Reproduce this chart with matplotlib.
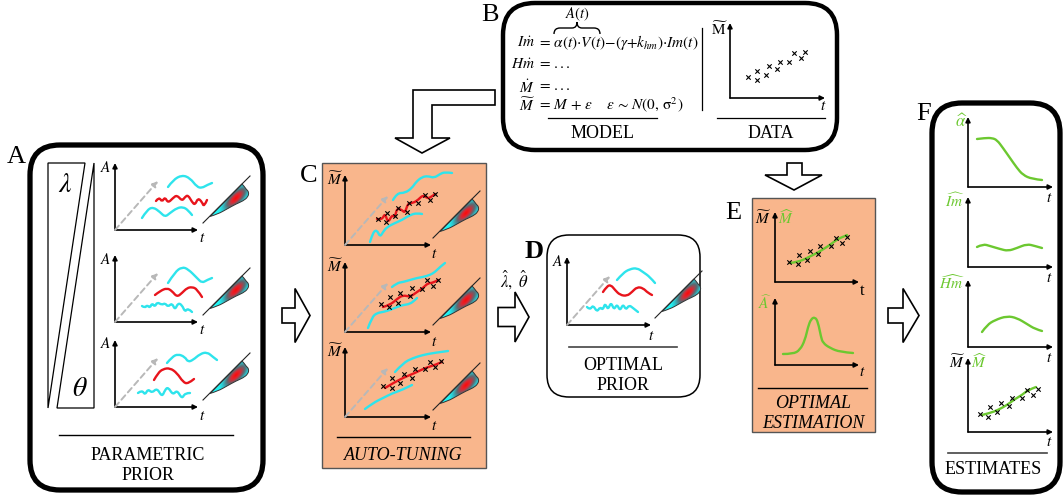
import numpy as np
import matplotlib.pyplot as plt
from matplotlib.patches import FancyBboxPatch, Rectangle, Polygon, PathPatch
from matplotlib.path import Path
from matplotlib.colors import LinearSegmentedColormap

plt.rcParams['font.family'] = ['Liberation Serif', 'DejaVu Serif']
plt.rcParams['mathtext.fontset'] = 'stix'

CYAN = '#2ee4ec'
RED = '#e8141c'
GREEN = '#6cc830'
ORANGE = '#f9b68c'
GRAY = '#b8b8b8'

# curve values, in pixels measured from each small plot's origin (dx right, dy up)
A1_CYAN_TOP = [(53, 43), (58, 50), (67, 55), (75, 52), (82, 43), (87, 42), (92, 45), (97, 47)]
A1_RED = [(41, 29), (44, 33), (47, 28), (50, 33), (53, 27), (58, 32), (62, 35), (67, 29),
          (70, 33), (73, 35), (77, 28), (80, 25), (83, 32), (87, 28), (89, 23), (92, 30)]
A1_CYAN_BOT = [(27, 12), (32, 20), (38, 23), (45, 18), (50, 13), (55, 17), (62, 22), (68, 23),
               (73, 20), (77, 15)]

A2_CYAN_TOP = [(53, 39), (60, 50), (67, 55), (73, 53), (82, 44), (87, 39), (92, 42), (97, 44)]
A2_RED = [(40, 27), (45, 31), (52, 34), (57, 31), (62, 25), (67, 29), (72, 34), (77, 35),
          (82, 33), (87, 25)]
A2_CYAN_BOT = [(27, 16), (30, 14), (32, 17), (35, 14), (37, 19), (40, 15), (42, 20), (47, 17),
               (50, 19), (53, 15), (57, 19), (60, 12), (63, 19), (67, 17), (70, 10), (73, 14),
               (77, 10)]

A3_CYAN_TOP = [(52, 44), (57, 50), (63, 53), (70, 50), (73, 45), (78, 47), (85, 53), (92, 55),
               (98, 50), (102, 47)]
A3_RED = [(39, 27), (43, 34), (48, 38), (55, 39), (62, 34), (68, 25), (73, 23), (79, 28)]
A3_CYAN_BOT = [(23, 14), (27, 17), (30, 12), (33, 18), (37, 14), (42, 19), (47, 10), (50, 17),
               (53, 20), (58, 12), (62, 17), (67, 8), (70, 14), (75, 14)]

C1_CYAN_TOP = [(48, 45), (52, 52), (60, 52), (67, 57), (71, 63), (77, 68), (83, 69), (89, 67),
               (95, 71), (100, 73), (107, 72)]
C1_CYAN_BOT = [(25, 3), (28, 13), (32, 15), (35, 8), (38, 13), (42, 18), (50, 22), (57, 25),
               (65, 30), (72, 32), (77, 31)]
C1_RED = [(32, 26), (37, 25), (40, 32), (43, 22), (47, 30), (50, 28), (52, 37), (57, 35),
          (60, 32), (63, 42), (68, 42), (73, 45), (78, 50), (82, 47), (85, 47), (90, 51)]
C1_OBS_X = [33, 41, 42, 50, 53, 62, 64, 73, 80, 85, 90]
C1_OBS_Y = [26, 23, 32, 29, 37, 33, 42, 42, 50, 45, 51]

C2_CYAN_TOP = [(47, 45), (52, 49), (58, 50), (65, 52), (72, 54), (78, 55), (85, 57), (90, 60),
               (95, 65), (100, 69)]
C2_CYAN_BOT = [(23, 4), (27, 15), (32, 19), (38, 20), (45, 22), (52, 25), (58, 27), (65, 28),
               (70, 32), (72, 34)]
C2_RED = [(38, 25), (45, 27), (52, 33), (58, 37), (65, 35), (72, 40), (78, 44), (83, 49),
          (88, 49), (93, 52)]
C2_OBS_X = [36, 44, 45, 53, 55, 65, 67, 77, 82, 88, 93]
C2_OBS_Y = [28, 25, 35, 29, 39, 36, 44, 43, 52, 46, 52]

C3_CYAN_TOP = [(50, 45), (58, 54), (68, 59), (78, 62), (88, 64), (103, 66)]
C3_CYAN_BOT = [(20, 8), (28, 14), (38, 19), (48, 24), (57, 27), (67, 32)]
C3_RED = [(40, 29), (50, 35), (60, 40), (70, 44), (80, 49), (90, 52), (97, 55)]
C3_OBS_X = [38, 47, 47, 55, 59, 67, 70, 80, 85, 90, 96]
C3_OBS_Y = [31, 39, 29, 34, 43, 39, 48, 48, 55, 50, 56]

D_CYAN_TOP = [(50, 45), (56, 52), (63, 56), (70, 57), (76, 53), (83, 48), (88, 42)]
D_RED = [(36, 33), (40, 39), (44, 40), (48, 35), (53, 30), (60, 29), (65, 33), (70, 38),
         (76, 37), (81, 32), (85, 30)]
D_CYAN_BOT = [(20, 18), (23, 15), (26, 20), (30, 13), (33, 18), (36, 15), (38, 22), (41, 15),
              (44, 23), (47, 15), (50, 21), (53, 14), (56, 21), (59, 15), (62, 20), (66, 17),
              (71, 13)]

DATA_X = [18, 27, 27, 36, 39, 47, 50, 59, 64, 71, 75]
DATA_Y = [21, 18, 27, 23, 32, 29, 36, 36, 45, 40, 46]

E1_FIT = [(15, 19), (23, 20), (32, 24), (42, 29), (52, 35), (60, 41), (65, 44), (70, 46), (72, 47)]
E1_OBS_X = [14, 23, 24, 32, 35, 43, 45, 56, 61, 67, 72]
E1_OBS_Y = [20, 18, 27, 22, 31, 28, 36, 36, 44, 39, 45]
E2_A_HAT = [(8, 11), (18, 11), (25, 15), (30, 25), (33, 38), (36, 46), (40, 48), (43, 43),
            (46, 28), (48, 22), (55, 17), (65, 13), (78, 12)]

F1_ALPHA = [(9, 48), (17, 49), (24, 49), (29, 47), (35, 39), (42, 29), (49, 19), (55, 12),
            (64, 8), (74, 7)]
F2_IM = [(9, 20), (15, 23), (22, 21), (32, 18), (40, 16), (49, 19), (59, 23), (67, 21), (74, 19)]
F3_HM = [(14, 15), (19, 22), (27, 27), (39, 31), (49, 29), (59, 23), (67, 18), (74, 16)]
F4_FIT = [(14, 17), (22, 19), (30, 22), (39, 27), (47, 33), (54, 37), (60, 42), (68, 45)]
F4_OBS_X = [12, 20, 22, 29, 33, 41, 44, 54, 59, 65, 70]
F4_OBS_Y = [18, 15, 25, 20, 29, 26, 34, 34, 42, 37, 43]

# outline of the prior density drawn beside each prior plot (starts and ends on its base line)
BLOB_EDGE = [(95, 13.5), (103, 16), (112, 21), (121, 26), (128, 29), (133, 33), (134, 38),
             (131, 41), (129, 44), (127, 46)]

fig = plt.figure(figsize=(10.63, 4.95), dpi=100)
ax = fig.add_axes([0, 0, 1, 1])
ax.axis('off')


def smooth_path(pts):
    pts = np.asarray(pts, float)
    verts = [pts[0]]
    codes = [Path.MOVETO]
    for i in range(1, len(pts) - 1):
        end = (pts[i] + pts[i + 1]) / 2 if i < len(pts) - 2 else pts[i + 1]
        verts += [pts[i], end]
        codes += [Path.CURVE3, Path.CURVE3]
    if len(pts) == 2:
        verts.append(pts[1])
        codes.append(Path.LINETO)
    return Path(verts, codes)


def place(ox, oy, pts):
    return [(ox + dx, oy - dy) for dx, dy in pts]


def curve(ox, oy, pts, color, lw=1.7):
    ax.add_patch(PathPatch(smooth_path(place(ox, oy, pts)), fill=False, ec=color, lw=lw,
                           capstyle='round', joinstyle='round', zorder=3))


def crosses(ox, oy, xs, ys):
    ax.scatter([ox + x for x in xs], [oy - y for y in ys], marker='x', s=10, c='k',
               linewidths=0.8, zorder=5)


def arrow(x0, y0, x1, y1, color='k', lw=1.2, ls='-', ms=7):
    ax.annotate('', xy=(x1, y1), xytext=(x0, y0),
                arrowprops=dict(arrowstyle='-|>', color=color, lw=lw, ls=ls,
                                mutation_scale=ms, shrinkA=0, shrinkB=0))


def mini_axes(ox, oy, w, h):
    arrow(ox, oy, ox, oy - h)
    arrow(ox, oy, ox + w, oy)


def depth_arrow(ox, oy):
    arrow(ox, oy, ox + 43, oy - 49, color=GRAY, lw=1.4, ls=(0, (3, 2)), ms=8)


cmap = LinearSegmentedColormap.from_list(
    'prior', [(0, '#ff0808'), (0.25, '#e02630'), (0.52, '#5a6a72'), (0.78, '#2ec2ca'),
              (1, '#22f4f4')])


def blob(ox, oy):
    ax.plot([ox + 88, ox + 135], [oy - 7, oy - 54], color='#222', lw=0.8, zorder=3)
    edge = np.array(place(ox, oy, BLOB_EDGE), float)
    p = smooth_path(edge)
    verts = list(p.vertices) + [edge[0], edge[0]]
    codes = list(p.codes) + [Path.LINETO, Path.CLOSEPOLY]
    path = Path(verts, codes)
    ax.add_patch(PathPatch(path, fc='none', ec='#333', lw=0.7, zorder=4))
    x0, x1 = ox + 93, ox + 136
    y0, y1 = oy - 48, oy - 11
    gx, gy = np.meshgrid(np.linspace(x0, x1, 90), np.linspace(y0, y1, 90))
    cx, cy = ox + 121, oy - 32
    dx, dyu = gx - cx, cy - gy
    u = (dx + dyu) / np.sqrt(2)
    v = (dx - dyu) / np.sqrt(2)
    d = np.sqrt((u / 16) ** 2 + (v / 6.5) ** 2)
    img = cmap(np.clip(d / 1.4, 0, 1))
    im = ax.imshow(img, extent=(x0, x1, y1, y0), origin='upper', aspect='auto',
                   interpolation='bilinear', zorder=2)
    im.set_clip_path(PathPatch(path, transform=ax.transData))


def right_arrow(x0, xb, xt, yc, hs, hh):
    pts = [(x0, yc - hs), (xb, yc - hs), (xb, yc - hh), (xt, yc), (xb, yc + hh),
           (xb, yc + hs), (x0, yc + hs)]
    ax.add_patch(Polygon(pts, closed=True, fc='white', ec='k', lw=1.2, zorder=3))


def label(x, y, s, size=11, color='k', **kw):
    ax.text(x, y, s, fontsize=size, color=color, ha='center', va='center', **kw)


# ---- frames ----
ax.add_patch(FancyBboxPatch((30, 145), 233, 345, boxstyle='round,pad=0,rounding_size=30',
                            fc='white', ec='k', lw=3.8))
ax.add_patch(FancyBboxPatch((503, 3), 334, 147, boxstyle='round,pad=0,rounding_size=32',
                            fc='white', ec='k', lw=3.2))
ax.add_patch(FancyBboxPatch((547, 235), 153, 162, boxstyle='round,pad=0,rounding_size=22',
                            fc='white', ec='k', lw=1.1))
ax.add_patch(FancyBboxPatch((932, 103), 128, 389, boxstyle='round,pad=0,rounding_size=30',
                            fc='white', ec='k', lw=3.8))
ax.add_patch(Rectangle((322, 163), 164, 305, fc=ORANGE, ec='#555', lw=1.0))
ax.add_patch(Rectangle((752, 198), 123, 234, fc=ORANGE, ec='#555', lw=1.0))

# panel letters
for s, x, y, w in [('A', 16, 157, 'normal'), ('B', 490, 15, 'normal'), ('C', 309, 176, 'normal'),
                   ('D', 534, 252, 'bold'), ('E', 733, 213, 'normal'), ('F', 924, 114, 'normal')]:
    label(x, y, s, size=19, weight=w)

# ---- A: parametric prior ----
ax.add_patch(Polygon([(48, 163), (85, 163), (48, 408)], closed=True, fc='none', ec='k', lw=0.9))
ax.add_patch(Polygon([(94, 163), (94, 408), (57, 408)], closed=True, fc='none', ec='k', lw=0.9))
label(65, 186, r'$\lambda$', size=20)
label(80, 390, r'$\theta$', size=20)

for oy, top, red, bot in [(230, A1_CYAN_TOP, A1_RED, A1_CYAN_BOT),
                          (322, A2_CYAN_TOP, A2_RED, A2_CYAN_BOT),
                          (407, A3_CYAN_TOP, A3_RED, A3_CYAN_BOT)]:
    ox = 115
    mini_axes(ox, oy, 83, 67)
    depth_arrow(ox, oy)
    curve(ox, oy, top, CYAN)
    curve(ox, oy, red, RED)
    curve(ox, oy, bot, CYAN)
    blob(ox, oy)
    label(ox - 9, oy - 63, r'$A$', size=11)
    label(ox + 87, oy + 9, r'$t$', size=11)

ax.plot([59, 233], [435, 435], color='k', lw=1.0)
label(148, 456, 'PARAMETRIC', size=13)
label(148, 476, 'PRIOR', size=13)

# ---- B: model and data ----
EQ = 11
for y, lhs, rhs in [(43, r'$I\dot{m}$', r'$=\,\alpha(t){\cdot}V(t){-}(\gamma{+}k_{hm}){\cdot}Im(t)$'),
                    (65, r'$H\dot{m}$', r'$=\,...$'),
                    (87, r'$\dot{M}$', r'$=\,...$'),
                    (105, r'$\widetilde{M}$',
                     r'$=\,M\,+\,\varepsilon\quad\ \varepsilon\,\sim\,N(0,\,\mathrm{\sigma}^2)$')]:
    ax.text(535, y, lhs, fontsize=EQ, ha='right', va='center')
    ax.text(537, y, rhs, fontsize=EQ, ha='left', va='center')
# brace over alpha(t)·V(t)
brace = Path([(554, 34), (554, 28), (560, 28), (572, 28), (577, 28), (577, 22),
              (577, 28), (582, 28), (594, 28), (600, 28), (600, 34)],
             [Path.MOVETO, Path.CURVE3, Path.CURVE3, Path.LINETO, Path.CURVE3, Path.CURVE3,
              Path.CURVE3, Path.CURVE3, Path.LINETO, Path.CURVE3, Path.CURVE3])
ax.add_patch(PathPatch(brace, fill=False, ec='k', lw=1.0))
label(577, 14, r'$A(t)$', size=10.5)

ax.plot([702, 702], [28, 110], color='k', lw=0.9)
ax.plot([548, 657], [118, 118], color='k', lw=0.9)
label(603, 134, 'MODEL', size=13)

mini_axes(730, 98, 95, 75)
crosses(730, 98, DATA_X, DATA_Y)
label(719, 29, r'$\widetilde{\mathrm{M}}$', size=11)
label(823, 106, r'$t$', size=11)
ax.plot([717, 825], [118, 118], color='k', lw=0.9)
label(771, 134, 'DATA', size=13)

# ---- block arrows ----
right_arrow(282, 295, 310, 315.5, 7.5, 27)
right_arrow(498, 515, 529, 317, 9.5, 25)
right_arrow(888, 903, 919, 315.5, 7.5, 27)
ax.add_patch(Polygon([(787, 163), (802, 163), (802, 175), (822, 175), (794, 190), (765, 175),
                      (787, 175)], closed=True, fc='white', ec='k', lw=1.2))
ax.add_patch(Polygon([(413, 90), (495, 90), (495, 105), (432, 105), (432, 138), (450, 138),
                      (422, 153), (395, 138), (413, 138)], closed=True, fc='white', ec='k',
                     lw=1.2))
label(514, 280, r'$\hat{\lambda},\ \hat{\theta}$', size=12)

# ---- C: auto-tuning ----
for oy, top, red, bot, xs, ys in [(245, C1_CYAN_TOP, C1_RED, C1_CYAN_BOT, C1_OBS_X, C1_OBS_Y),
                                  (332, C2_CYAN_TOP, C2_RED, C2_CYAN_BOT, C2_OBS_X, C2_OBS_Y),
                                  (417, C3_CYAN_TOP, C3_RED, C3_CYAN_BOT, C3_OBS_X, C3_OBS_Y)]:
    ox = 345
    mini_axes(ox, oy, 86, 70)
    depth_arrow(ox, oy)
    curve(ox, oy, top, CYAN)
    curve(ox, oy, bot, CYAN)
    curve(ox, oy, red, RED)
    crosses(ox, oy, xs, ys)
    blob(ox, oy)
    label(ox - 10, oy - 66, r'$\widetilde{M}$', size=11)
    label(ox + 89, oy + 10, r'$t$', size=11)

ax.plot([337, 470], [437, 437], color='k', lw=1.0)
label(403, 456, 'AUTO-TUNING', size=13, style='italic')

# ---- D: optimal prior ----
mini_axes(567, 325, 84, 68)
depth_arrow(567, 325)
curve(567, 325, D_CYAN_TOP, CYAN)
curve(567, 325, D_RED, RED)
curve(567, 325, D_CYAN_BOT, CYAN)
blob(567, 325)
label(558, 262, r'$A$', size=11)
label(651, 336, r'$t$', size=11)
ax.plot([569, 677], [347, 347], color='#444', lw=1.2)
label(623, 366, 'OPTIMAL', size=13)
label(623, 386, 'PRIOR', size=13)

# ---- E: optimal estimation ----
mini_axes(775, 282, 84, 70)
curve(775, 282, E1_FIT, GREEN, lw=1.7)
crosses(775, 282, E1_OBS_X, E1_OBS_Y)
label(763, 218, r'$\widetilde{M}$', size=11)
label(786, 218, r'$\widehat{M}$', size=11, color=GREEN)
label(862, 291, 't', size=12)

mini_axes(775, 365, 84, 67)
curve(775, 365, E2_A_HAT, GREEN, lw=1.7)
label(765, 303, r'$\widehat{A}$', size=11, color=GREEN)
label(862, 373, r'$t$', size=11)
ax.plot([758, 867], [388, 388], color='k', lw=1.0)
label(813, 404, 'OPTIMAL', size=13, style='italic')
label(813, 423, 'ESTIMATION', size=13, style='italic')

# ---- F: estimates ----
for oy, h, pts in [(187, 70, F1_ALPHA), (267, 70, F2_IM), (347, 67, F3_HM), (432, 74, F4_FIT)]:
    mini_axes(968, oy, 85, h)
    curve(968, oy, pts, GREEN, lw=1.7)
    label(1049, oy + 11, r'$t$', size=11)
crosses(968, 432, F4_OBS_X, F4_OBS_Y)
label(961, 122, r'$\widehat{\alpha}$', size=12, color=GREEN)
label(955, 201, r'$\widehat{Im}$', size=11, color=GREEN)
label(952, 283, r'$\widehat{Hm}$', size=11, color=GREEN)
label(957, 362, r'$\widetilde{M}$', size=11)
label(979, 362, r'$\widehat{M}$', size=11, color=GREEN)
ax.plot([948, 1047], [453, 453], color='#444', lw=1.2)
label(993, 470, 'ESTIMATES', size=13)

ax.set_xlim(0, 1063)
ax.set_ylim(495, 0)
fig.savefig('out.png', dpi=100)
